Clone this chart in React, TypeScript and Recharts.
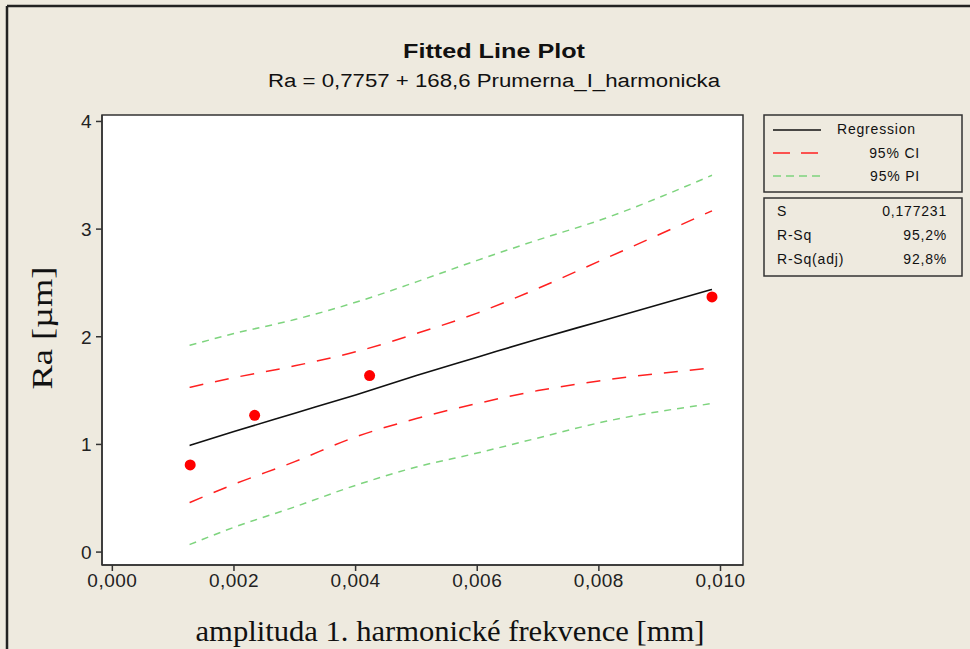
import {
  ComposedChart,
  Line,
  Scatter,
  XAxis,
  YAxis,
  ReferenceArea
} from 'recharts'

const bandX = [0.00127, 0.002, 0.003, 0.004, 0.005, 0.006, 0.007, 0.008, 0.00986]
const regression = [0.99, 1.12, 1.29, 1.46, 1.64, 1.81, 1.98, 2.14, 2.44]
const ciUpper = [1.53, 1.62, 1.73, 1.86, 2.03, 2.22, 2.45, 2.7, 3.17]
const ciLower = [0.46, 0.63, 0.84, 1.07, 1.24, 1.38, 1.5, 1.59, 1.71]
const piUpper = [1.92, 2.03, 2.16, 2.32, 2.51, 2.71, 2.9, 3.08, 3.5]
const piLower = [0.07, 0.23, 0.42, 0.62, 0.79, 0.92, 1.06, 1.2, 1.38]

// measured points
const pointX = [0.00128, 0.00234, 0.00423, 0.00986]
const pointY = [0.81, 1.27, 1.64, 2.37]

const xTicks = [0, 0.002, 0.004, 0.006, 0.008, 0.01]
const yTicks = [0, 1, 2, 3, 4]

const stats = [
  { label: 'S', value: '0,177231' },
  { label: 'R-Sq', value: '95,2%' },
  { label: 'R-Sq(adj)', value: '92,8%' }
]

const xDomain = [-0.00017, 0.01037]
const yDomain = [-0.12, 4.06]

const toRows = (ys: number[]) => bandX.map((x, i) => ({ x, y: ys[i] }))
const points = pointX.map((x, i) => ({ x, y: pointY[i] }))

const BG = '#EEEADF'
const SANS = 'Arial, "Liberation Sans", sans-serif'
const SERIF = '"Times New Roman", "Liberation Serif", serif'

export default function App() {
  const tickStyle = { fill: '#222', fontSize: 19, fontFamily: SANS, letterSpacing: 0.5 }

  return (
    <div style={{ position: 'fixed', left: 0, top: 0, width: 970, height: 649, background: BG }}>
      <ComposedChart
        width={970}
        height={649}
        margin={{ top: 115, right: 227, bottom: 54, left: 40 }}
      >
        <ReferenceArea
          x1={xDomain[0]}
          x2={xDomain[1]}
          y1={yDomain[0]}
          y2={yDomain[1]}
          ifOverflow="visible"
          fill="#fff"
          fillOpacity={1}
          stroke="#333"
          strokeWidth={1.5}
        />
        <XAxis
          type="number"
          dataKey="x"
          domain={xDomain}
          ticks={xTicks}
          allowDataOverflow
          height={30}
          tickSize={6}
          tickMargin={3}
          stroke="#333"
          strokeWidth={1.5}
          tick={tickStyle}
          tickFormatter={(v: number) => v.toFixed(3).replace('.', ',')}
        />
        <YAxis
          type="number"
          dataKey="y"
          domain={yDomain}
          ticks={yTicks}
          allowDataOverflow
          width={62}
          tickSize={6}
          tickMargin={4}
          stroke="#333"
          strokeWidth={1.5}
          tick={tickStyle}
        />
        <Line
          data={toRows(piUpper)}
          dataKey="y"
          type="monotone"
          stroke="#7ED47E"
          strokeWidth={1.5}
          strokeDasharray="7 6"
          dot={false}
          isAnimationActive={false}
        />
        <Line
          data={toRows(piLower)}
          dataKey="y"
          type="monotone"
          stroke="#7ED47E"
          strokeWidth={1.5}
          strokeDasharray="7 6"
          dot={false}
          isAnimationActive={false}
        />
        <Line
          data={toRows(ciUpper)}
          dataKey="y"
          type="monotone"
          stroke="#FF2020"
          strokeWidth={1.5}
          strokeDasharray="14 12"
          dot={false}
          isAnimationActive={false}
        />
        <Line
          data={toRows(ciLower)}
          dataKey="y"
          type="monotone"
          stroke="#FF2020"
          strokeWidth={1.5}
          strokeDasharray="14 12"
          dot={false}
          isAnimationActive={false}
        />
        <Line
          data={toRows(regression)}
          dataKey="y"
          type="monotone"
          stroke="#111"
          strokeWidth={1.6}
          dot={false}
          isAnimationActive={false}
        />
        <Scatter
          data={points}
          dataKey="y"
          isAnimationActive={false}
          shape={(p: any) => <circle cx={p.cx} cy={p.cy} r={5.5} fill="#FF0000" />}
        />
      </ComposedChart>

      <svg
        width={970}
        height={649}
        style={{ position: 'absolute', left: 0, top: 0, pointerEvents: 'none' }}
      >
        {/* window frame */}
        <line x1={7} y1={6} x2={970} y2={6} stroke="#222" strokeWidth={2.5} />
        <line x1={7} y1={6} x2={7} y2={649} stroke="#222" strokeWidth={2.5} />

        <text x={494} y={58} textAnchor="middle" fontFamily={SANS} fontWeight="bold" fontSize={20}
          textLength={182} lengthAdjust="spacingAndGlyphs" fill="#111">
          Fitted Line Plot
        </text>
        <text x={494} y={87} textAnchor="middle" fontFamily={SANS} fontSize={18}
          textLength={452} lengthAdjust="spacingAndGlyphs" fill="#111">
          Ra =  0,7757 + 168,6 Prumerna_I_harmonicka
        </text>

        <text x={52} y={328} transform="rotate(-90 52 328)" textAnchor="middle" fontFamily={SERIF}
          fontSize={30} textLength={123} lengthAdjust="spacingAndGlyphs" fill="#111">
          Ra [µm]
        </text>
        <text x={450} y={641} textAnchor="middle" fontFamily={SERIF} fontSize={30}
          textLength={509} lengthAdjust="spacingAndGlyphs" fill="#111">
          amplituda 1. harmonické frekvence [mm]
        </text>

        {/* legend */}
        <rect x={764} y={115} width={198} height={77} fill={BG} stroke="#333" strokeWidth={1.5} />
        <line x1={773} y1={130} x2={821} y2={130} stroke="#111" strokeWidth={1.5} />
        <line x1={773} y1={153} x2={821} y2={153} stroke="#FF2020" strokeWidth={1.5} strokeDasharray="17 11" />
        <line x1={773} y1={176} x2={821} y2={176} stroke="#7ED47E" strokeWidth={1.5} strokeDasharray="8 5" />
        <g fontFamily={SANS} fontSize={14} fill="#111" letterSpacing={0.8}>
          <text x={837} y={134}>Regression</text>
          <text x={920} y={158} textAnchor="end">95% CI</text>
          <text x={920} y={181} textAnchor="end">95% PI</text>
        </g>

        <rect x={764} y={198} width={198} height={78} fill={BG} stroke="#333" strokeWidth={1.5} />
        <g fontFamily={SANS} fontSize={14} fill="#111" letterSpacing={0.8}>
          {stats.map((s, i) => (
            <g key={s.label}>
              <text x={777} y={216 + i * 24}>{s.label}</text>
              <text x={947} y={216 + i * 24} textAnchor="end">{s.value}</text>
            </g>
          ))}
        </g>
      </svg>
    </div>
  )
}
